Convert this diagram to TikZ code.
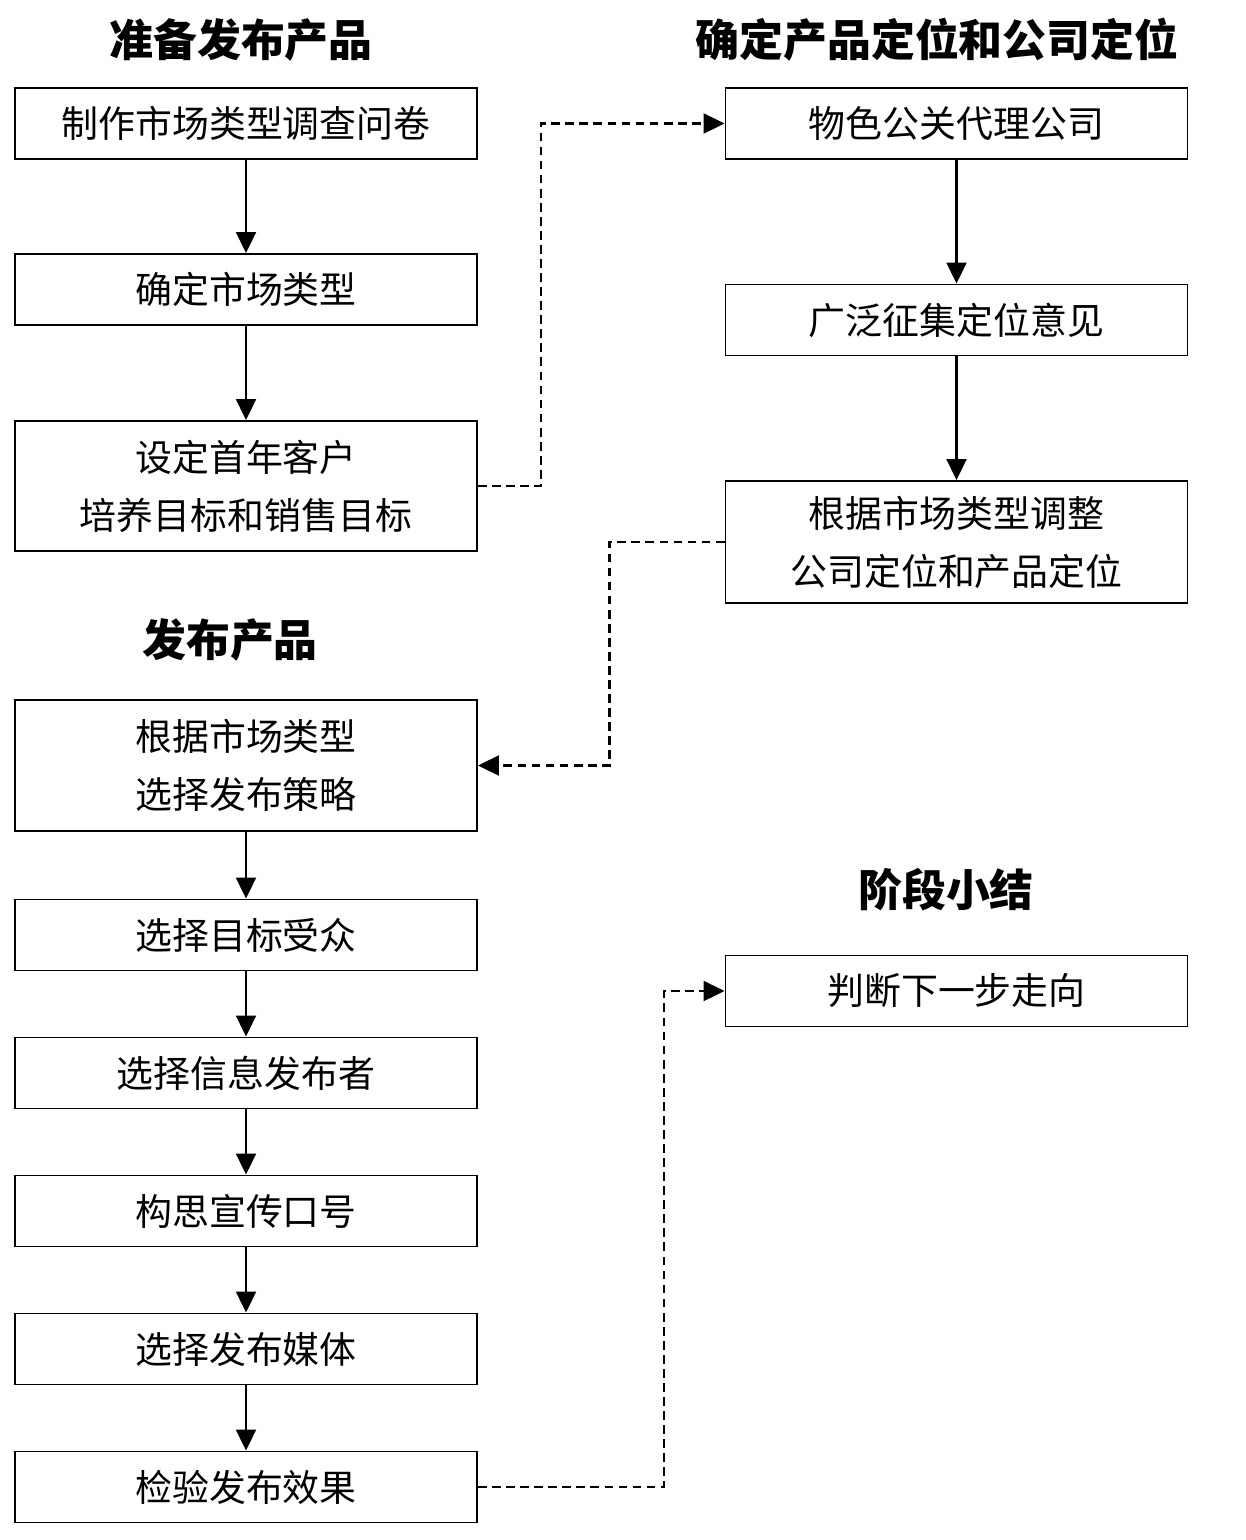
\documentclass[tikz,border=0pt]{standalone}
\usepackage{fontspec}
\setmainfont{Noto Sans CJK SC}
\usepackage{tikz}
\usetikzlibrary{arrows.meta, positioning}

\begin{document}
\begin{tikzpicture}[
		stepbox/.style={draw, line width=1.1pt, minimum width=9.24cm, minimum height=1.42cm, align=center, font=\fontsize{21}{33}\selectfont},
		title/.style={font=\fontsize{25}{29}\selectfont\bfseries},
		arr/.style={line width=1.2pt, -{Triangle[length=0.42cm, width=0.4cm]}},
		dasharr/.style={arr, dash pattern=on 5pt off 3pt}]
		\useasboundingbox (0,0) rectangle (24.9,-30.8);
		
		% titles
		\node [title] (t1) at (4.82,-0.8) {准备发布产品};
		\node [title] (t2) at (18.74,-0.8) {确定产品定位和公司定位};
		\node [title] (t3) at (4.6,-12.8) {发布产品};
		\node [title] (t4) at (18.92,-17.8) {阶段小结};
		
		% left column
		\node [stepbox] (a1) at (4.92,-2.47) {制作市场类型调查问卷};
		\node [stepbox] (a2) at (4.92,-5.79) {确定市场类型};
		\node [stepbox, minimum height=2.6cm] (a3) at (4.92,-9.72) {设定首年客户\\培养目标和销售目标};
		
		\node [stepbox, minimum height=2.62cm] (b1) at (4.92,-15.31) {根据市场类型\\选择发布策略};
		\node [stepbox] (b2) at (4.92,-18.7) {选择目标受众};
		\node [stepbox] (b3) at (4.92,-21.46) {选择信息发布者};
		\node [stepbox] (b4) at (4.92,-24.22) {构思宣传口号};
		\node [stepbox] (b5) at (4.92,-26.98) {选择发布媒体};
		\node [stepbox] (b6) at (4.92,-29.74) {检验发布效果};
		
		% right column
		\node [stepbox] (c1) at (19.13,-2.47) {物色公关代理公司};
		\node [stepbox] (c2) at (19.13,-6.4) {广泛征集定位意见};
		\node [stepbox, minimum height=2.44cm] (c3) at (19.13,-10.84) {根据市场类型调整\\公司定位和产品定位};
		\node [stepbox] (d1) at (19.13,-19.82) {判断下一步走向};
		
		\draw [arr] (a1) -- (a2);
		\draw [arr] (a2) -- (a3);
		\foreach \u/\v in {b1/b2, b2/b3, b3/b4, b4/b5, b5/b6}{
			\draw [arr] (\u) -- (\v);
		}
		\draw [arr] (c1) -- (c2);
		\draw [arr] (c2) -- (c3);
		
		\draw [dasharr] (a3.east) -- ++(1.26,0) |- (c1.west);
		\draw [dasharr] (c3.west) -- ++(-2.3,0) |- (b1.east);
		\draw [dasharr] (b6.east) -- ++(3.72,0) |- (d1.west);
	\end{tikzpicture}
\end{document}
